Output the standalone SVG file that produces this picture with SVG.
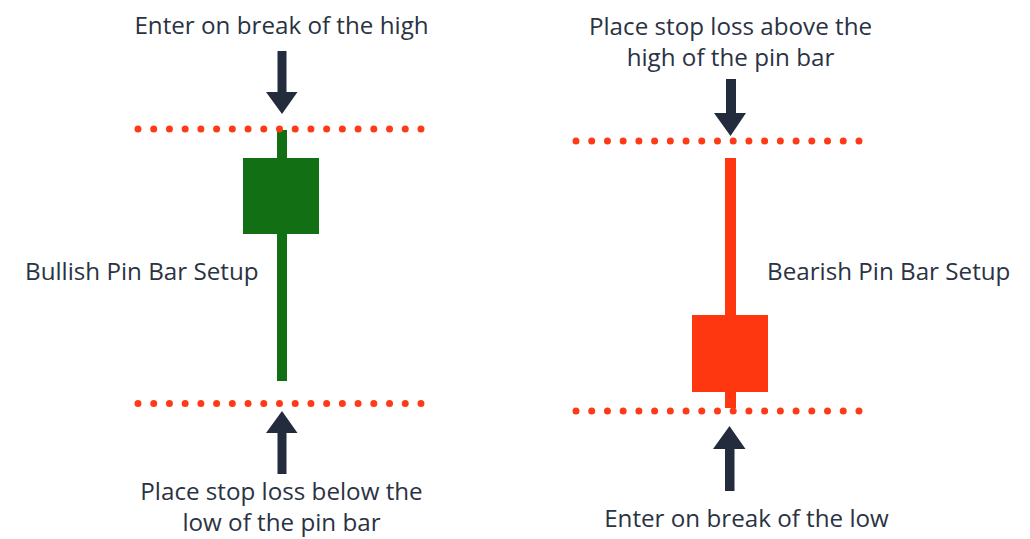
<svg xmlns="http://www.w3.org/2000/svg" width="1030" height="539" viewBox="0 0 1030 539">
<defs>
<style>
text{font-family:"Open Sans","Noto Sans","Liberation Sans",sans-serif;font-size:24.2px;fill:#2b3343}
.c{text-anchor:middle}
.dots{stroke:#ff3b17;stroke-width:7;stroke-linecap:round;stroke-dasharray:0 15.72;fill:none}
.arrow{fill:#232c3c}
</style>
</defs>
<rect width="1030" height="539" fill="#ffffff"/>
<g id="bullish-candle">
<rect x="277" y="130" width="10" height="251" fill="#136f13"/>
<rect x="243" y="158" width="76" height="76" fill="#136f13"/>
</g>
<g id="bearish-candle">
<rect x="725" y="158" width="11" height="250" fill="#ff3711"/>
<rect x="692" y="315" width="76" height="77" fill="#ff3711"/>
</g>
<g id="levels">
<line class="dots" x1="138" y1="129" x2="422" y2="129"/>
<line class="dots" x1="138" y1="403.5" x2="422" y2="403.5"/>
<line class="dots" x1="576" y1="141" x2="860" y2="141"/>
<line class="dots" x1="576" y1="411" x2="860" y2="411"/>
</g>
<g id="connectors">
<polygon class="arrow" points="277.5,51 286.5,51 286.5,92 297.5,92 282,114 266,92 277.5,92"/>
<polygon class="arrow" points="277.5,474 286.5,474 286.5,433 297.5,433 282,411 266,433 277.5,433"/>
<polygon class="arrow" points="726,79 736,79 736,113 746,113 730.5,136 714,113 726,113"/>
<polygon class="arrow" points="725,491 734.5,491 734.5,449 745.5,449 729.5,426 713,449 725,449"/>
</g>
<g id="label-enter-high"><text class="c" x="281.5" y="34">Enter on break of the high</text></g>
<g id="label-bullish"><text x="25" y="280">Bullish Pin Bar Setup</text></g>
<g id="label-stop-below"><text class="c" x="281.5" y="499.5">Place stop loss below the</text><text class="c" x="281.5" y="531">low of the pin bar</text></g>
<g id="label-stop-above"><text class="c" x="730.5" y="35">Place stop loss above the</text><text class="c" x="730.5" y="66">high of the pin bar</text></g>
<g id="label-bearish"><text x="767" y="280">Bearish Pin Bar Setup</text></g>
<g id="label-enter-low"><text class="c" x="746.5" y="527">Enter on break of the low</text></g>
</svg>
